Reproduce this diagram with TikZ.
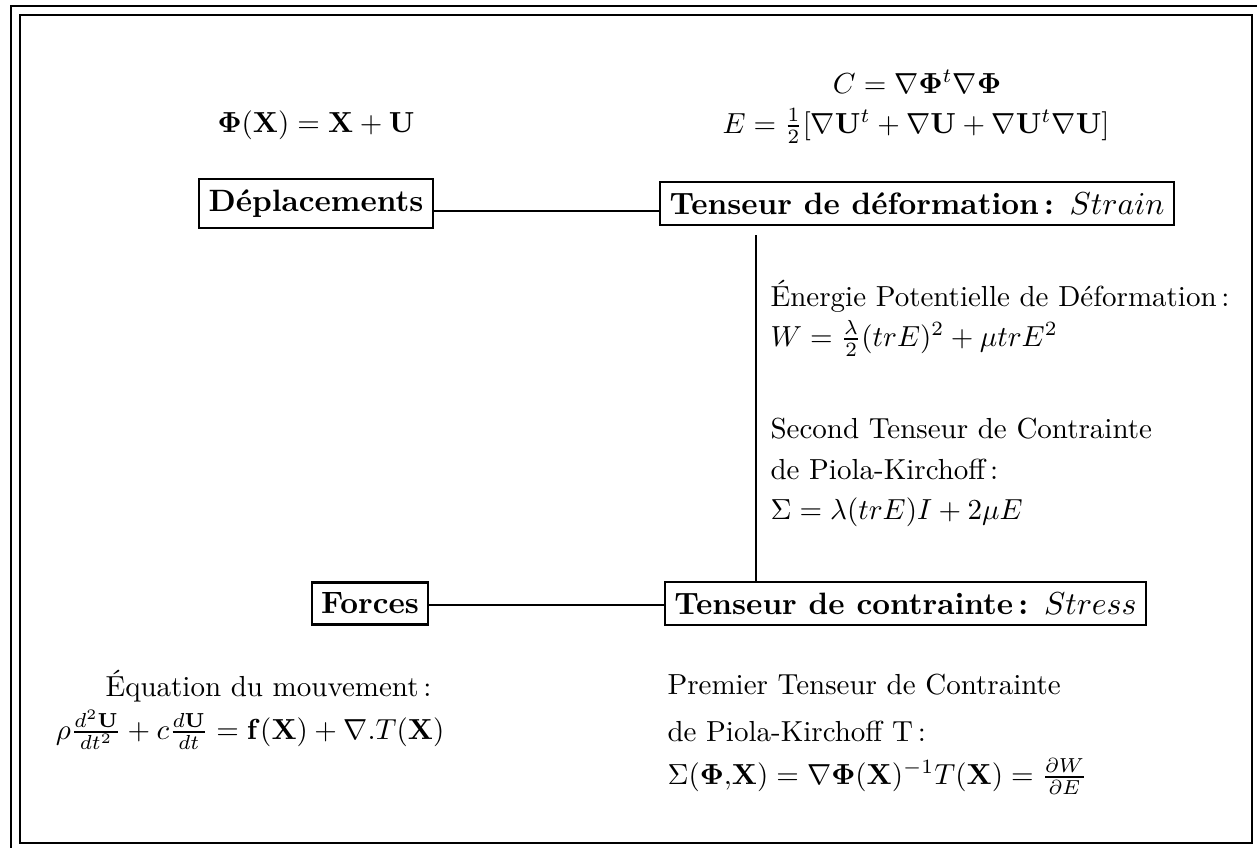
\documentclass[tikz,border=0pt]{standalone}
\usepackage{amsmath}
\begin{document}
\begin{tikzpicture}[x=0.3448pt,y=-0.3448pt,
  box/.style={draw,line width=0.75pt,inner xsep=3.2pt,inner ysep=3.6pt,font=\fontsize{10.65}{13}\selectfont\bfseries},
  link/.style={line width=0.7pt},
  frame/.style={line width=0.95pt},
  txt/.style={anchor=mid west,inner sep=0pt},
  txtr/.style={anchor=mid east,inner sep=0pt}]
\useasboundingbox (0,0) rectangle (1257,848);
\draw[frame] (11,848) -- (11,6) -- (1257,6);
\draw[frame] (20,15) rectangle (1252,843);

\node[inner sep=1pt] (phi) at (316,125) {$\mathbf{\Phi}(\mathbf{X})=\mathbf{X}+\mathbf{U}$};
\node[inner sep=1pt] (C) at (917,82) {$C=\nabla\mathbf{\Phi}^t\nabla\mathbf{\Phi}$};
\node[inner sep=1pt] (E) at (916,126) {$E=\frac12[\nabla\mathbf{U}^t+\nabla\mathbf{U}+\nabla\mathbf{U}^t\nabla\mathbf{U}]$};

\node[box] (dep) at (316,203.5) {Déplacements};
\node[box] (def) at (917,203.5) {Tenseur de déformation\,: $Strain$};
\node[box] (forces) at (370,603.5) {Forces};
\node[box] (con) at (905.5,603.5) {Tenseur de contrainte\,: $Stress$};

\draw[link] (dep.base east) -- (dep.base east -| def.west);
\draw[link] ([yshift=-0.6pt]forces.east) -- ([yshift=-0.6pt]forces.east -| con.west);
\coordinate (vtop) at (756,235);
\draw[link] (vtop) -- (vtop |- con.north);

\node[txt] (en) at (770,300) {Énergie Potentielle de Déformation\,:};
\node[txt] (w) at (770,340) {$W=\frac{\lambda}{2}(trE)^2+\mu trE^2$};
\node[txt] (s1) at (770,432) {Second Tenseur de Contrainte};
\node[txt] (s2) at (770,473) {de Piola-Kirchoff\,:};
\node[txt] (s3) at (770,513) {$\Sigma=\lambda(trE)I+2\mu E$};

\node[txtr] (eq) at (432,690) {Équation du mouvement\,:};
\node[txtr] (eqf) at (445,733) {$\rho\frac{d^2\mathbf{U}}{dt^2}+c\frac{d\mathbf{U}}{dt}=\mathbf{f}(\mathbf{X})+\nabla.T(\mathbf{X})$};

\node[txt] (p1) at (667,688) {Premier Tenseur de Contrainte};
\node[txt] (p2) at (667,735) {de Piola-Kirchoff T\,:};
\node[txt] (p3) at (667,778) {$\Sigma(\mathbf{\Phi}{,}\mathbf{X})=\nabla\mathbf{\Phi}(\mathbf{X})^{-1}T(\mathbf{X})=\frac{\partial W}{\partial E}$};
\end{tikzpicture}
\end{document}
